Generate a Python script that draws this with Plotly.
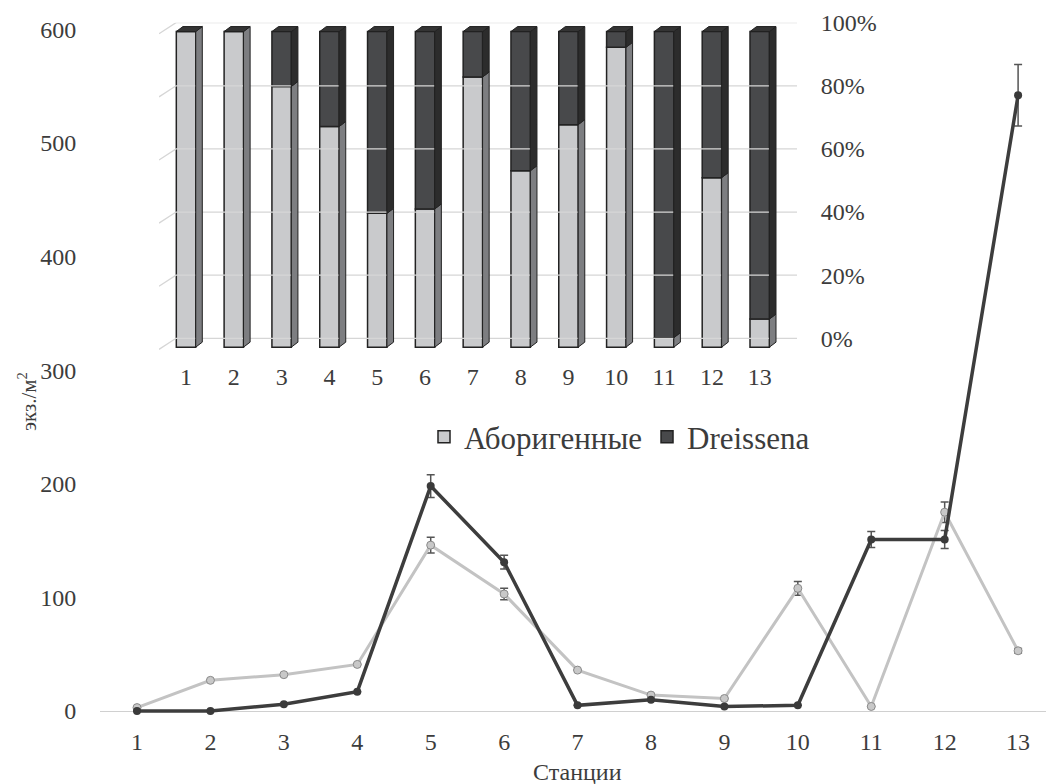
import plotly.graph_objects as go

stations = list(range(1, 14))
station_labels = [str(s) for s in stations]
native = [3, 27, 32, 41, 146, 103, 36, 14, 11, 108, 4, 175, 53]
native_err = [0, 0, 0, 0, 7, 5, 0, 0, 0, 6, 0, 9, 2]
dreissena = [0, 0, 6, 17, 198, 131, 5, 10, 4, 5, 151, 151, 542]
dreissena_err = [0, 0, 0, 0, 10, 6, 0, 0, 0, 0, 7, 8, 27]
pct_native = [100, 100, 82.6, 69.9, 42.4, 43.8, 85.6, 55.9, 70.5, 95.0, 3.0, 53.7, 8.9]
pct_dreissena = [100 - p for p in pct_native]
y_ticks = [0, 100, 200, 300, 400, 500, 600]
pct_ticks = [0, 20, 40, 60, 80, 100]
pct_labels = [f"{t}%" for t in pct_ticks]

FONT = "Liberation Serif, Times New Roman, serif"
TXT = "#3c3c3c"
LIGHT = "#c9cacc"
DARK = "#48494b"
LIGHT_SIDE = "#7d7e81"
DARK_SIDE = "#2c2c2c"
EDGE = "#222222"

W, H = 1046, 784
L, R, T, B = 100, 0, 20, 70
PW, PH = W - L - R, H - T - B


def px(xp):
    return (xp - L) / PW


def py(yp):
    return (H - B - yp) / PH


fig = go.Figure()

fig.add_trace(go.Scatter(
    x=stations, y=native, mode="lines+markers", name="Аборигенные", showlegend=False,
    line=dict(color="#c3c3c3", width=3),
    marker=dict(size=8, color="#c8c8c8", line=dict(color="#8a8a8a", width=1)),
    error_y=dict(type="data", array=native_err, color="#555555", thickness=1.5, width=4),
    cliponaxis=False, xaxis="x", yaxis="y"))
fig.add_trace(go.Scatter(
    x=stations, y=dreissena, mode="lines+markers", name="Dreissena", showlegend=False,
    line=dict(color="#3d3d3d", width=3.5),
    marker=dict(size=8, color="#3a3a3a"),
    error_y=dict(type="data", array=dreissena_err, color="#555555", thickness=1.5, width=4),
    cliponaxis=False, xaxis="x", yaxis="y"))

BW = 0.406
DX, DY = 0.138, 1.58
BASE = -2.8
XL2, XR2 = 0.435, 13.78
WALL_X = 0.791
STUB = 3.5

for g in pct_ticks:
    fig.add_trace(go.Scatter(
        x=[XL2, WALL_X, XR2], y=[g - STUB, g, g], mode="lines",
        line=dict(color="#d6d6d6", width=1.3), hoverinfo="skip",
        showlegend=False, xaxis="x2", yaxis="y2"))

fig.add_trace(go.Bar(
    x=stations, y=pct_native, base=[BASE] * len(stations), width=BW,
    name="Аборигенные", marker=dict(color=LIGHT, line=dict(color=EDGE, width=1.5)),
    xaxis="x2", yaxis="y2"))
fig.add_trace(go.Bar(
    x=stations, y=pct_dreissena, base=[BASE + p for p in pct_native], width=BW,
    name="Dreissena", marker=dict(color=DARK, line=dict(color=EDGE, width=1.5)),
    xaxis="x2", yaxis="y2"))


def side_poly(b0_list, b1_list):
    xs, ys = [], []
    for k, b0, b1 in zip(stations, b0_list, b1_list):
        if b1 - b0 <= 0:
            continue
        xr = k + BW / 2
        xs += [xr, xr + DX, xr + DX, xr, xr, None]
        ys += [b0, b0 + DY, b1 + DY, b1, b0, None]
    return xs, ys


lx, ly = side_poly([BASE] * 13, [BASE + p for p in pct_native])
dx_, dy_ = side_poly([BASE + p for p in pct_native], [BASE + 100] * 13)
for xs, ys, col in [(lx, ly, LIGHT_SIDE), (dx_, dy_, DARK_SIDE)]:
    fig.add_trace(go.Scatter(
        x=xs, y=ys, mode="lines", fill="toself", fillcolor=col,
        line=dict(color=EDGE, width=1), hoverinfo="skip", showlegend=False,
        xaxis="x2", yaxis="y2"))

tx, ty = [], []
top = BASE + 100
for k in stations:
    tx += [k - BW / 2, k - BW / 2 + DX, k + BW / 2 + DX, k + BW / 2, k - BW / 2, None]
    ty += [top, top + DY, top + DY, top, top, None]
fig.add_trace(go.Scatter(
    x=tx, y=ty, mode="lines", fill="toself", fillcolor="#343434",
    line=dict(color=EDGE, width=1), hoverinfo="skip", showlegend=False,
    xaxis="x2", yaxis="y2"))

fig.update_layout(
    width=W, height=H,
    margin=dict(l=L, r=R, t=T, b=B),
    paper_bgcolor="white", plot_bgcolor="rgba(0,0,0,0)",
    font=dict(family=FONT, color=TXT, size=24),
    barmode="overlay",
    showlegend=True,
    legend=dict(orientation="h", x=px(424), y=py(437), xanchor="left", yanchor="middle",
                font=dict(size=31, family=FONT, color=TXT), bgcolor="rgba(0,0,0,0)",
                itemwidth=30, tracegroupgap=0),
    xaxis=dict(domain=[0, 1], range=[0.496, 13.38], tickvals=stations, ticktext=station_labels,
               showgrid=False, zeroline=False, showline=False,
               ticks="outside", ticklen=6, tickcolor="rgba(0,0,0,0)",
               tickfont=dict(size=24, family=FONT, color=TXT)),
    yaxis=dict(domain=[0, 1], range=[-(714 - 711) / 1.136, (711 - 20) / 1.136],
               tickvals=y_ticks, showgrid=False, zeroline=True, zerolinecolor="#d0d0d0",
               zerolinewidth=1.3, showline=False,
               ticks="outside", ticklen=18, tickcolor="rgba(0,0,0,0)",
               tickfont=dict(size=24, family=FONT, color=TXT)),
    xaxis2=dict(domain=[px(159), px(797)], range=[XL2, XR2], anchor="y2",
                tickvals=stations, ticktext=station_labels, showgrid=False, zeroline=False,
                showline=False, ticks="outside", ticklen=3, tickcolor="rgba(0,0,0,0)",
                tickfont=dict(size=24, family=FONT, color=TXT)),
    yaxis2=dict(domain=[py(352.5), py(22.7)], range=[-4.5, 100], anchor="x2", side="right",
                tickvals=pct_ticks, ticktext=pct_labels, showgrid=False, zeroline=False,
                showline=False, ticks="outside", ticklen=18, tickcolor="rgba(0,0,0,0)",
                tickfont=dict(size=24, family=FONT, color=TXT)),
    annotations=[
        dict(text="экз./м<sup>2</sup>", x=px(27), y=py(402), xref="paper", yref="paper",
             xanchor="center", yanchor="middle",
             textangle=-90, showarrow=False, font=dict(size=21, family=FONT, color=TXT)),
        dict(text="Станции", x=px(577), y=py(772), xref="paper", yref="paper",
             xanchor="center", yanchor="middle",
             showarrow=False, font=dict(size=24, family=FONT, color=TXT)),
    ],
)

fig.write_html("out.html")
